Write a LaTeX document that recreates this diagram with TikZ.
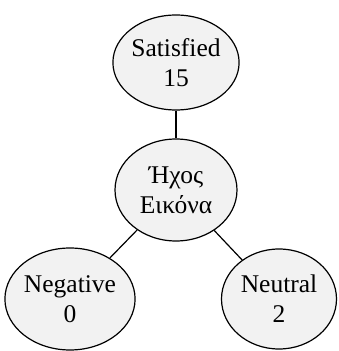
\documentclass[tikz,border=0pt]{standalone}
\usepackage{fontspec}
\setmainfont{Liberation Serif}
\definecolor{BubbleGray}{RGB}{242, 242, 242}
\usetikzlibrary{shapes.geometric}

\begin{document}
\begin{tikzpicture}[x=1pt, y=1pt,
    bubble/.style={ellipse, draw, line width=1.2pt, fill=BubbleGray, inner sep=0pt, align=center, font=\fontsize{25.5}{30}\selectfont}]
        \useasboundingbox (0,0) rectangle (338,351);
        % nodes
        \node[bubble, minimum width=122pt, minimum height=95pt] (sat) at (176,288.5) {Satisfied\\15};
        \node[bubble, minimum width=122pt, minimum height=102pt] (sound) at (176,161) {Ήχος\\Εικόνα};
        \node[bubble, minimum width=124pt, minimum height=102pt] (neg) at (70,52) {Negative\\0};
        \node[bubble, minimum width=115pt, minimum height=100pt] (neu) at (279,52) {Neutral\\2};
        % edges
        \draw[line width=1.2pt] (sat) -- (sound);
        \draw[line width=1.2pt] (sound) -- (neg);
        \draw[line width=1.2pt] (sound) -- (neu);
    \end{tikzpicture}
\end{document}
